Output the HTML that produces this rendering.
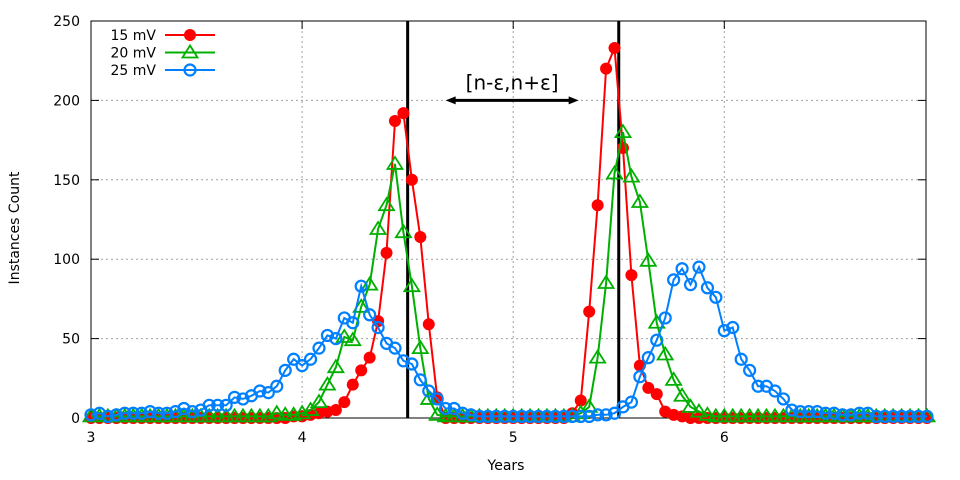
<!DOCTYPE html>
<html><head><meta charset="utf-8">
<style>
html,body{margin:0;padding:0;background:#fff;}
svg{display:block;font-family:"DejaVu Sans","Liberation Sans",sans-serif;}
</style></head>
<body>
<svg id="chart" width="960" height="480" viewBox="0 0 960 480" xmlns="http://www.w3.org/2000/svg"></svg>
<script>
const xTicks=[3,4,5,6];
const yTicks=[0,50,100,150,200,250];
const seriesNames=["15 mV","20 mV","25 mV"];
const red=[0,0,0,0,0,0,0,0,0,0,0,0,0,0,0,0,0,0,0,0,0,0,0,0,1,
1,2,3,4,5,10,21,30,38,61,104,187,192,150,114,59,13,0,0,0,0,0,0,0,0,
0,0,0,0,0,0,0,3,11,67,134,220,233,170,90,33,19,15,4,2,1,0,0,0,0,
0,0,0,0,0,0,0,0,0,0,0,0,0,0,0,0,0,0,0,0,0,0,0,0,0];
const green=[1,1,1,1,1,1,1,1,1,1,1,1,1,1,1,1,1,1,1,1,1,1,3,2,2,
3,5,10,21,32,51,49,70,84,119,134,160,117,83,44,12,2,1,1,1,1,1,1,1,1,
1,1,1,1,1,1,1,1,3,7,38,85,154,180,152,136,99,60,40,24,14,7,4,2,1,
1,1,1,1,1,1,1,1,1,1,1,1,1,1,1,1,1,1,1,1,1,1,1,1,1];
const blue=[2,3,1,2,3,3,3,4,3,3,4,6,4,5,8,8,8,13,12,14,17,16,20,30,37,
33,37,44,52,50,63,60,83,65,57,47,44,36,34,24,17,12,6,6,3,2,1,1,1,1,
1,1,1,1,1,1,1,1,1,1,2,2,3,7,10,26,38,49,63,87,94,84,95,82,76,
55,57,37,30,20,20,17,12,5,4,4,4,3,3,2,2,3,3,1,1,1,1,1,1,1];
const xStart=3, xStep=0.04;
const vLines=[4.5,5.5];
const arrowSpan=[4.68,5.31], arrowY=200;

const L=91,R=926,T=21,B=418;
const X=v=>L+(v-3)*211.1;
const Y=v=>B-(v/250)*(B-T);
const svg=document.getElementById('chart');
const NS='http://www.w3.org/2000/svg';
function mk(tag,attrs,parent){const e=document.createElementNS(NS,tag);for(const k in attrs)e.setAttribute(k,attrs[k]);(parent||svg).appendChild(e);return e;}

xTicks.forEach(t=>{if(t>3){const g=mk('line',{x1:X(t),x2:X(t),y1:T,y2:B,stroke:'#a0a0a0','stroke-dasharray':'2,3'});

}});
yTicks.forEach(t=>{if(t>0&&t<250){const g=mk('line',{x1:L,x2:R,y1:Y(t),y2:Y(t),stroke:'#a0a0a0','stroke-dasharray':'2,3'});

}});
xTicks.forEach(t=>{
 mk('line',{x1:X(t),x2:X(t),y1:B,y2:B-8,stroke:'#000'});
 mk('line',{x1:X(t),x2:X(t),y1:T,y2:T+8,stroke:'#000'});
 const tx=mk('text',{x:X(t),y:B+24,'text-anchor':'middle','font-size':14});tx.textContent=t;
 
 
});
yTicks.forEach(t=>{
 mk('line',{x1:L,x2:L+8,y1:Y(t),y2:Y(t),stroke:'#000'});
 mk('line',{x1:R,x2:R-8,y1:Y(t),y2:Y(t),stroke:'#000'});
 const tx=mk('text',{x:L-11,y:Y(t)+5,'text-anchor':'end','font-size':14});tx.textContent=t;
 
 
});
const fr=mk('rect',{x:L,y:T,width:R-L,height:B-T,fill:'none',stroke:'#000','stroke-width':1});



vLines.forEach(v=>{const l=mk('line',{x1:X(v),x2:X(v),y1:T,y2:B,stroke:'#000','stroke-width':3});

});

const cols=['#ff0000','#00b000','#0080ff'];
const data=[red,green,blue];
function marker(i,x,y,g){
 if(i===0){mk('circle',{cx:x,cy:y,r:6,fill:cols[0]},g);}
 else if(i===1){mk('polygon',{points:`${x},${y-7} ${x-7.5},${y+5} ${x+7.5},${y+5}`,fill:'none',stroke:cols[1],'stroke-width':1.8},g);}
 else {mk('circle',{cx:x,cy:y,r:5.5,fill:'none',stroke:cols[2],'stroke-width':2.2},g);}
}
data.forEach((arr,si)=>{
 const g=mk('g',{});
 
 
 const pts=arr.map((v,i)=>X(xStart+i*xStep).toFixed(1)+','+Y(v).toFixed(1)).join(' ');
 mk('polyline',{points:pts,fill:'none',stroke:cols[si],'stroke-width':2},g);
 arr.forEach((v,i)=>marker(si,X(xStart+i*xStep),Y(v),g));
});

const ag=mk('g',{});


const ax1=X(arrowSpan[0]),ax2=X(arrowSpan[1]),ay=Y(arrowY);
mk('line',{x1:ax1+6,x2:ax2-6,y1:ay,y2:ay,stroke:'#000','stroke-width':3},ag);
mk('polygon',{points:`${ax1},${ay} ${ax1+10},${ay-4} ${ax1+10},${ay+4}`,fill:'#000'},ag);
mk('polygon',{points:`${ax2},${ay} ${ax2-10},${ay-4} ${ax2-10},${ay+4}`,fill:'#000'},ag);
const at=mk('text',{x:(ax1+ax2)/2,y:ay-11,'text-anchor':'middle','font-size':20});at.textContent='[n-ε,n+ε]';



const lg=mk('g',{});


seriesNames.forEach((n,i)=>{
 const y=35+i*17.5;
 const t=mk('text',{x:156,y:y+5,'text-anchor':'end','font-size':14},lg);t.textContent=n;
 mk('line',{x1:165,x2:215,y1:y,y2:y,stroke:cols[i],'stroke-width':2},lg);
 marker(i,190,y,lg);
});

const xt=mk('text',{x:506,y:470,'text-anchor':'middle','font-size':14});xt.textContent='Years';


const yt=mk('text',{x:0,y:0,'text-anchor':'middle','font-size':14,transform:'translate(19,228) rotate(-90)'});yt.textContent='Instances Count';


</script>
</body></html>
